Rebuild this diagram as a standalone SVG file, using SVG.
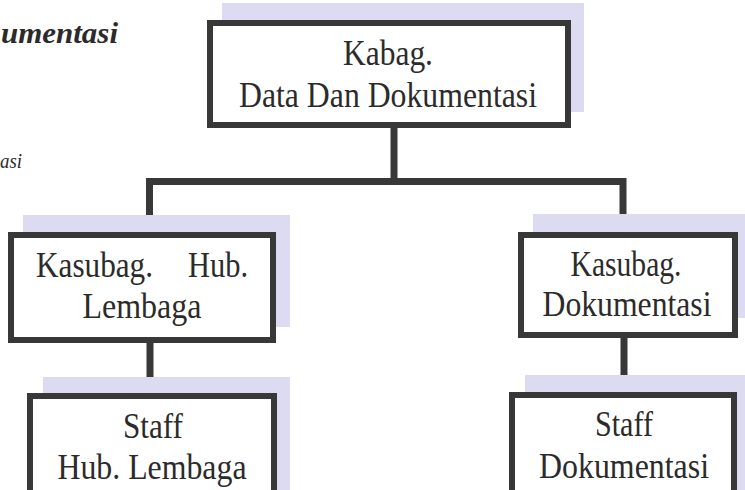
<svg xmlns="http://www.w3.org/2000/svg" width="745" height="490" viewBox="0 0 745 490">
<style>
.shadow{fill:#dcdbf1}
.box{fill:#ffffff;stroke:#383838;stroke-width:6}
.lbl{font-family:"Liberation Serif","Times New Roman","DejaVu Serif",serif;font-size:35px;fill:#2b2b2b;text-anchor:middle}
.conn{fill:none;stroke:#383838;stroke-width:7;stroke-linejoin:miter}
.hdr{font-family:"Liberation Serif","Times New Roman","DejaVu Serif",serif;font-style:italic;fill:#2b2b2b}
</style>
<rect width="745" height="490" fill="#ffffff"/>
<text class="hdr" x="1" y="43" font-size="30" font-weight="bold" textLength="117" lengthAdjust="spacingAndGlyphs">umentasi</text>
<text class="hdr" x="0" y="168" font-size="22" textLength="22" lengthAdjust="spacingAndGlyphs">asi</text>
<g id="connectors">
<path class="conn" d="M394,127 V181.5"/>
<path class="conn" d="M149.5,234 V181.5 H623 V234"/>
<path class="conn" d="M150,341 V395"/>
<path class="conn" d="M624,337 V394"/>
</g>
<g id="kabag">
<rect class="shadow" x="222" y="3" width="362" height="109"/>
<rect class="box" x="210" y="23" width="358" height="102"/>
<text class="lbl" x="388" y="65" textLength="90" lengthAdjust="spacingAndGlyphs">Kabag.</text>
<text class="lbl" x="388" y="107" textLength="298" lengthAdjust="spacingAndGlyphs">Data Dan Dokumentasi</text>
</g>
<g id="kasubag-hub">
<rect class="shadow" x="23" y="215" width="267" height="112"/>
<rect class="box" x="11" y="235" width="262" height="105"/>
<text class="lbl" x="36" y="277" style="text-anchor:start" textLength="117" lengthAdjust="spacingAndGlyphs">Kasubag.</text>
<text class="lbl" x="248" y="277" style="text-anchor:end" textLength="60" lengthAdjust="spacingAndGlyphs">Hub.</text>
<text class="lbl" x="142" y="318" textLength="119" lengthAdjust="spacingAndGlyphs">Lembaga</text>
</g>
<g id="kasubag-dok">
<rect class="shadow" x="533" y="214" width="215" height="104"/>
<rect class="box" x="521" y="235" width="214" height="100"/>
<text class="lbl" x="626" y="276" textLength="111" lengthAdjust="spacingAndGlyphs">Kasubag.</text>
<text class="lbl" x="627" y="316" textLength="169" lengthAdjust="spacingAndGlyphs">Dokumentasi</text>
</g>
<g id="staff-hub">
<rect class="shadow" x="43" y="377" width="247" height="120"/>
<rect class="box" x="30" y="396" width="244" height="110"/>
<text class="lbl" x="153" y="438" textLength="60" lengthAdjust="spacingAndGlyphs">Staff</text>
<text class="lbl" x="152" y="479" textLength="189" lengthAdjust="spacingAndGlyphs">Hub. Lembaga</text>
</g>
<g id="staff-dok">
<rect class="shadow" x="525" y="375" width="225" height="120"/>
<rect class="box" x="512" y="395" width="222" height="110"/>
<text class="lbl" x="624" y="436" textLength="58" lengthAdjust="spacingAndGlyphs">Staff</text>
<text class="lbl" x="624" y="478" textLength="170" lengthAdjust="spacingAndGlyphs">Dokumentasi</text>
</g>
</svg>
